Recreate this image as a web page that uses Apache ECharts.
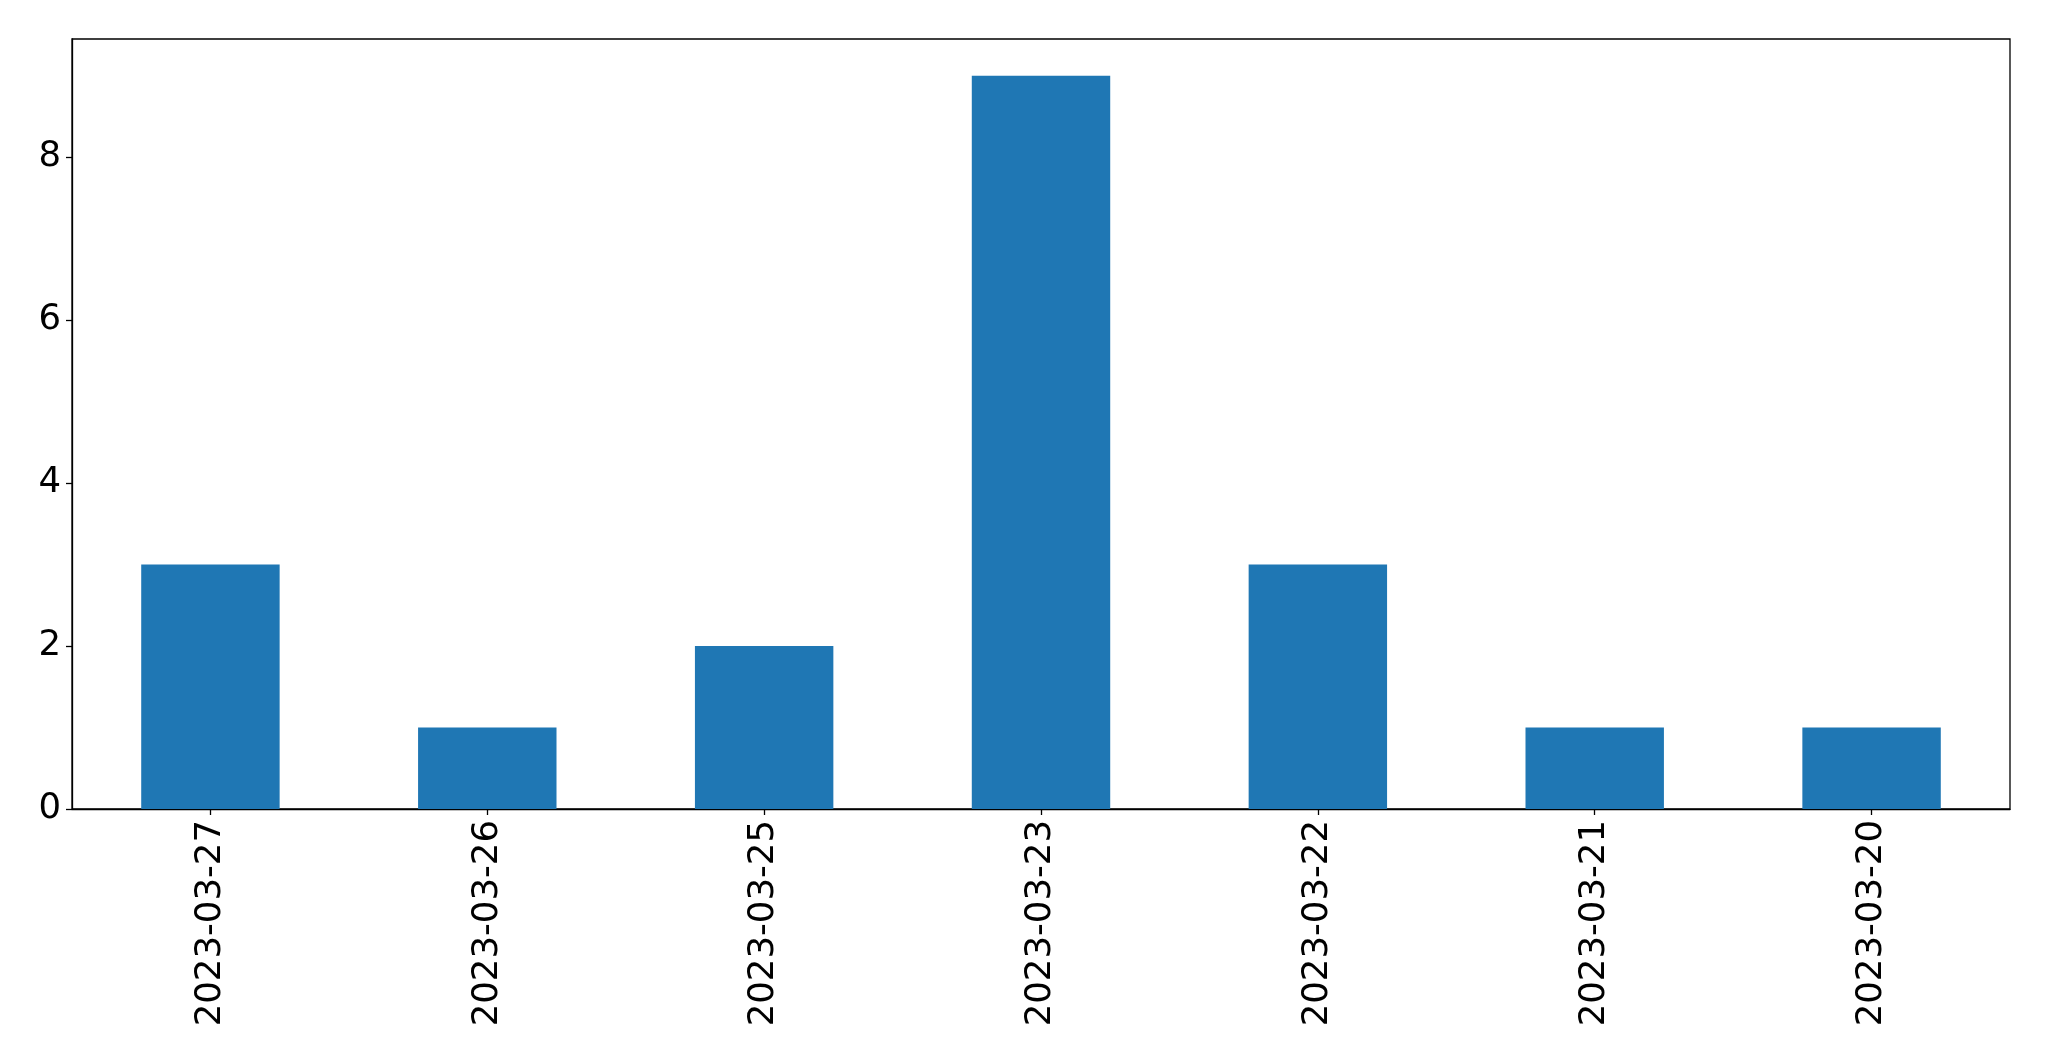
<!DOCTYPE html>
<html>
<head>
<meta charset="utf-8">
<script src="https://cdn.jsdelivr.net/npm/echarts@6/dist/echarts.min.js"></script>
<style>
html,body{margin:0;padding:0;background:#fff;}
#chart{width:2049px;height:1061px;}
</style>
</head>
<body>
<div id="chart"></div>
<script>
const categories = ['2023-03-27','2023-03-26','2023-03-25','2023-03-23','2023-03-22','2023-03-21','2023-03-20'];
const counts = [3, 1, 2, 9, 3, 1, 1];
const yTicks = [0, 2, 4, 6, 8];

const chart = echarts.init(document.getElementById('chart'), null, {renderer: 'canvas'});
const font = 'DejaVu Sans';
chart.setOption({
  animation: false,
  backgroundColor: '#ffffff',
  grid: {left: 72, right: 39, top: 39, bottom: 252, show: true, borderColor: '#000', borderWidth: 1.3, backgroundColor: 'transparent'},
  xAxis: {
    type: 'category',
    data: categories,
    axisLine: {show: true, lineStyle: {color: '#000', width: 1.3}},
    axisTick: {show: true, alignWithLabel: true, length: 6, lineStyle: {color: '#000', width: 1.3}},
    axisLabel: {rotate: 90, margin: 11, fontFamily: font, fontSize: 35.5, color: '#000', interval: 0},
    splitLine: {show: false}
  },
  yAxis: {
    type: 'value',
    min: 0,
    max: 9.45,
    interval: 2,
    axisLine: {show: true, lineStyle: {color: '#000', width: 1.3}},
    axisTick: {show: true, length: 6, customValues: yTicks, lineStyle: {color: '#000', width: 1.3}},
    axisLabel: {margin: 11, fontFamily: font, fontSize: 35.5, color: '#000', customValues: yTicks},
    splitLine: {show: false}
  },
  series: [{
    type: 'bar',
    data: counts,
    barWidth: '50%',
    itemStyle: {color: '#1f77b4'}
  }]
});
</script>
</body>
</html>
